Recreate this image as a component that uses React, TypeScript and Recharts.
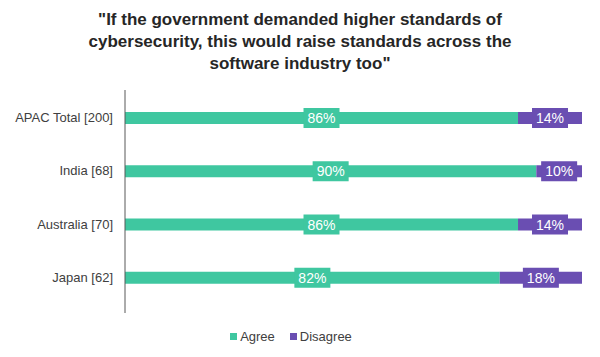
import { BarChart, Bar, XAxis, YAxis, Legend, LabelList } from 'recharts';

document.body.style.margin = '0';

const categories = ['APAC Total [200]', 'India [68]', 'Australia [70]', 'Japan [62]'];
const agree = [86, 90, 86, 82];
const disagree = [14, 10, 14, 18];

const TITLE = [
  '"If the government demanded higher standards of',
  'cybersecurity, this would raise standards across the',
  'software industry too"',
];

const GREEN = '#3FC7A0';
const PURPLE = '#6A4EB2';
const INK = '#404040';
const FONT = '"Liberation Sans", Arial, sans-serif';

const data = categories.map((name, i) => ({ name, agree: agree[i], disagree: disagree[i] }));

function boxLabel(fill: string) {
  return (props: any) => {
    const { x, y, width, height, value } = props;
    const cx = x + width / 2;
    const cy = y + height / 2;
    return (
      <g>
        <rect x={cx - 18} y={cy - 10} width={36} height={20} fill={fill} />
        <text x={cx} y={cy} dy="0.36em" textAnchor="middle" fill="#fff" fontSize={14} fontFamily={FONT}>
          {value}%
        </text>
      </g>
    );
  };
}

function LegendBox() {
  const items = [
    { label: 'Agree', color: GREEN },
    { label: 'Disagree', color: PURPLE },
  ];
  return (
    <div style={{ height: 40, paddingTop: 7, boxSizing: 'border-box', display: 'flex', justifyContent: 'center', gap: 15, fontFamily: FONT, fontSize: 13, color: INK, lineHeight: '18px' }}>
      {items.map((it) => (
        <span key={it.label} style={{ display: 'flex', alignItems: 'center', gap: 3 }}>
          <span style={{ width: 7, height: 7, background: it.color, display: 'inline-block' }} />
          {it.label}
        </span>
      ))}
    </div>
  );
}

export default function App() {
  return (
    <div style={{ position: 'relative', width: 600, height: 357, background: '#fff' }}>
      <div style={{ position: 'absolute', top: 9, left: 0, width: 600, textAlign: 'center', fontFamily: FONT, fontWeight: 'bold', fontSize: 17, lineHeight: '22px', color: '#262626' }}>
        {TITLE.map((t) => <div key={t}>{t}</div>)}
      </div>
      <BarChart width={600} height={357} data={data} layout="vertical" margin={{ top: 90, right: 18, bottom: 4, left: 0 }} barSize={12}>
        <XAxis type="number" domain={[0, 100]} hide />
        <YAxis type="category" dataKey="name" width={125} axisLine={{ stroke: '#595959' }} tickLine={false}
          tickMargin={6} padding={{ top: 1, bottom: 9 }}
          tick={{ fontSize: 13, fontFamily: FONT, fill: INK }} />
        <Legend verticalAlign="bottom" content={() => <LegendBox />} />
        <Bar dataKey="agree" stackId="a" fill={GREEN} isAnimationActive={false}>
          <LabelList dataKey="agree" content={boxLabel(GREEN)} />
        </Bar>
        <Bar dataKey="disagree" stackId="a" fill={PURPLE} isAnimationActive={false}>
          <LabelList dataKey="disagree" content={boxLabel(PURPLE)} />
        </Bar>
      </BarChart>
    </div>
  );
}
